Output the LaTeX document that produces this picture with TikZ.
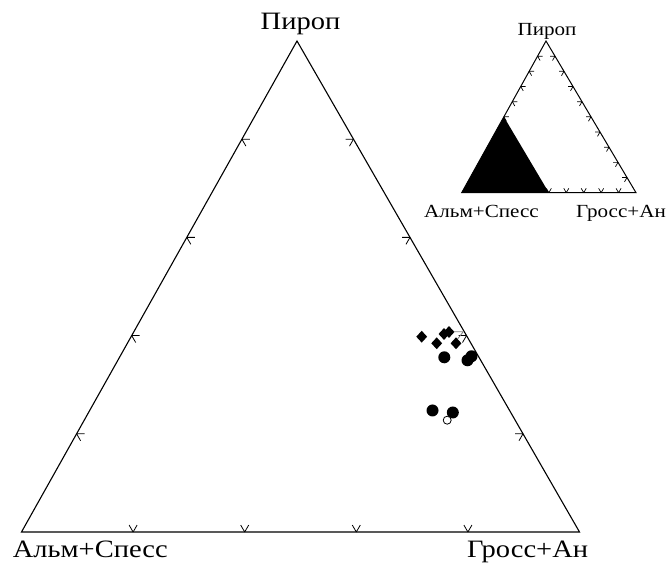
\documentclass[tikz,border=0pt]{standalone}
\usepackage{fontspec}
\setmainfont[FakeStretch=1.14]{Liberation Serif}
\usetikzlibrary{calc,shapes.geometric}

\begin{document}
\begin{tikzpicture}[x=1pt, y=1pt,
    corner/.style ={inner sep=0pt, font=\fontsize{25}{30}\selectfont},
    smallcorner/.style ={inner sep=0pt, font=\fontsize{18.5}{22}\selectfont},
    grain/.style ={circle, fill, inner sep=0pt, minimum size=12pt},
    rim/.style ={circle, draw, fill=white, line width=0.8pt, inner sep=0pt, minimum size=8pt},
    crystal/.style ={diamond, fill, inner sep=0pt, minimum width=11pt, minimum height=12pt}]
   \useasboundingbox (0,0) rectangle (667,564);
   % main triangle
   \coordinate (A) at (21.5,32);
   \coordinate (G) at (579.5,32);
   \coordinate (P) at (297,523);
   \draw[line width=1.1pt] (A) -- (G) -- (P) -- cycle;
   \foreach \f in {0.2,0.4,0.6,0.8} {
     \draw[line width=0.8pt] ($(A)!\f!(P)$) -- ++(0:8) ($(A)!\f!(P)$) -- ++(-60:8);
     \draw[line width=0.8pt] ($(G)!\f!(P)$) -- ++(180:8) ($(G)!\f!(P)$) -- ++(-120:8);
     \draw[line width=0.8pt] ($(A)!\f!(G)$) -- ++(60:8) ($(A)!\f!(G)$) -- ++(120:8);
   }
   \node[corner, anchor=base] (Pyr) at (300.5,534.7) {Пироп};
   \node[corner, anchor=base west] (Alm) at (12.7,6.7) {Альм+Спесс};
   \node[corner, anchor=base east] (Gro) at (588.3,6.7) {Гросс+Ан};
   % small triangle
   \coordinate (a) at (461.7,371.3);
   \coordinate (g) at (636,371.3);
   \coordinate (p) at (546,523);
   \fill (a) -- ($(a)!0.5!(g)$) -- ($(a)!0.5!(p)$) -- cycle;
   \draw[line width=1pt] (a) -- (g) -- (p) -- cycle;
   \foreach \f in {0.5,0.6,0.7,0.8,0.9} {
     \draw[line width=0.7pt] ($(a)!\f!(p)$) -- ++(0:5) ($(a)!\f!(p)$) -- ++(-60:5);
     \draw[line width=0.7pt] ($(a)!\f!(g)$) -- ++(60:5) ($(a)!\f!(g)$) -- ++(120:5);
   }
   \foreach \f in {0.1,0.2,0.3,0.4,0.5,0.6,0.7,0.8,0.9} {
     \draw[line width=0.7pt] ($(g)!\f!(p)$) -- ++(180:5) ($(g)!\f!(p)$) -- ++(-120:5);
   }
   \node[smallcorner, anchor=base] (pyr) at (547,528) {Пироп};
   \node[smallcorner, anchor=base west] (alm) at (424,346.7) {Альм+Спесс};
   \node[smallcorner, anchor=base east] (gro) at (666,346.7) {Гросс+Ан};
   % samples
   \coordinate (k1) at (453,232.3);
   \coordinate (k2) at (463.3,232.3);
   \coordinate (k3) at (456,223);
   \draw[gray, line width=0.8pt] (k1) -- (k2) -- (k3);
   \node[crystal] (d1) at (421.7,227.3) {};
   \node[crystal] (d2) at (444,230) {};
   \node[crystal] (d3) at (449,232) {};
   \node[crystal] (d4) at (436.7,220.7) {};
   \node[crystal] (d5) at (456,220.7) {};
   \node[grain] (c1) at (444.3,206.7) {};
   \node[grain] (c2) at (467.5,203.7) {};
   \node[grain] (c3) at (471.5,207.7) {};
   \node[grain] (c4) at (432.5,153.5) {};
   \node[grain] (c5) at (452.8,151.5) {};
   \node[rim] (c6) at (447.2,143.8) {};
\end{tikzpicture}
\end{document}
